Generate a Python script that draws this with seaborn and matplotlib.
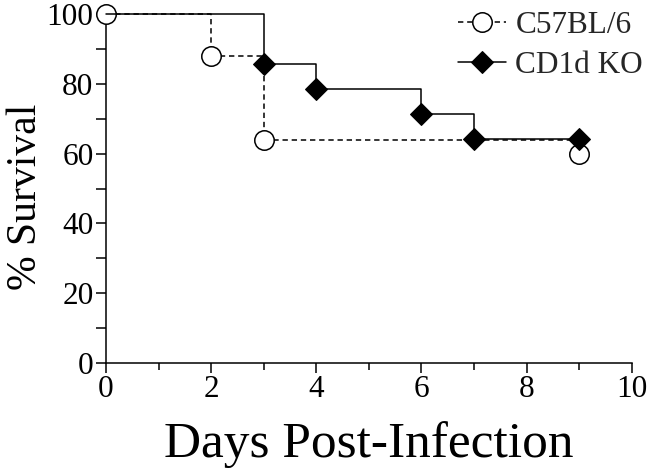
import matplotlib
matplotlib.use("Agg")
import matplotlib.pyplot as plt
from matplotlib.ticker import MultipleLocator
import seaborn as sns
import pandas as pd

# Data
c57_days = [0, 2, 3, 9]
c57_surv = [100, 88, 64, 60]
cd1d_days = [0, 3, 4, 6, 7, 9]
cd1d_surv = [100, 85.7, 78.6, 71.4, 64.3, 64.3]
series_names = ["C57BL/6", "CD1d KO"]
x_label = "Days Post-Infection"
y_label = "% Survival"

sns.set_theme(style="ticks")
plt.rcParams["font.family"] = ["Liberation Serif", "DejaVu Serif"]

df_c57 = pd.DataFrame({"day": c57_days, "surv": c57_surv})
df_cd1d = pd.DataFrame({"day": cd1d_days, "surv": cd1d_surv})

fig = plt.figure(figsize=(6.5, 4.72), dpi=100)
ax = fig.add_axes([0.163, 0.231, 0.809, 0.739])

lw = 1.1
sns.lineplot(data=df_c57, x="day", y="surv", ax=ax, drawstyle="steps-post",
             color="black", linestyle=(0, (3.5, 2.5)), linewidth=lw,
             marker="o", markersize=14, markerfacecolor="white",
             markeredgecolor="black", markeredgewidth=1.1,
             label=series_names[0], clip_on=False, zorder=3)
sns.lineplot(data=df_cd1d, x="day", y="surv", ax=ax, drawstyle="steps-post",
             color="black", linestyle="-", linewidth=lw,
             marker="D", markersize=11, markerfacecolor="black",
             markeredgecolor="black", markevery=list(range(1, len(cd1d_days))),
             label=series_names[1], clip_on=False, zorder=4)

ax.set_xlim(0, 10)
ax.set_ylim(0, 100)
ax.xaxis.set_major_locator(MultipleLocator(2))
ax.xaxis.set_minor_locator(MultipleLocator(1))
ax.yaxis.set_major_locator(MultipleLocator(20))
ax.yaxis.set_minor_locator(MultipleLocator(10))
ax.tick_params(axis="both", which="major", direction="out", length=7, width=1.1,
               labelsize=22.5, color="black", labelcolor="black", pad=2)
ax.tick_params(axis="x", which="minor", direction="out", length=5, width=1.1, color="black")
ax.tick_params(axis="y", which="minor", direction="out", length=7, width=1.1, color="black")

for s in ["top", "right"]:
    ax.spines[s].set_visible(False)
for s in ["left", "bottom"]:
    ax.spines[s].set_linewidth(1.1)
    ax.spines[s].set_color("black")

ax.set_xlabel(x_label, fontsize=37, color="black", labelpad=12)
ax.set_ylabel(y_label, fontsize=30, color="black")
ax.yaxis.set_label_coords(-0.115, 0.476)

leg = ax.legend(loc="upper right", frameon=False, fontsize=22.5, handlelength=1.55,
                handletextpad=0.3, borderaxespad=0.0, labelspacing=0.35,
                bbox_to_anchor=(1.045, 1.045))

fig.savefig("out.png", dpi=100, facecolor="white")
